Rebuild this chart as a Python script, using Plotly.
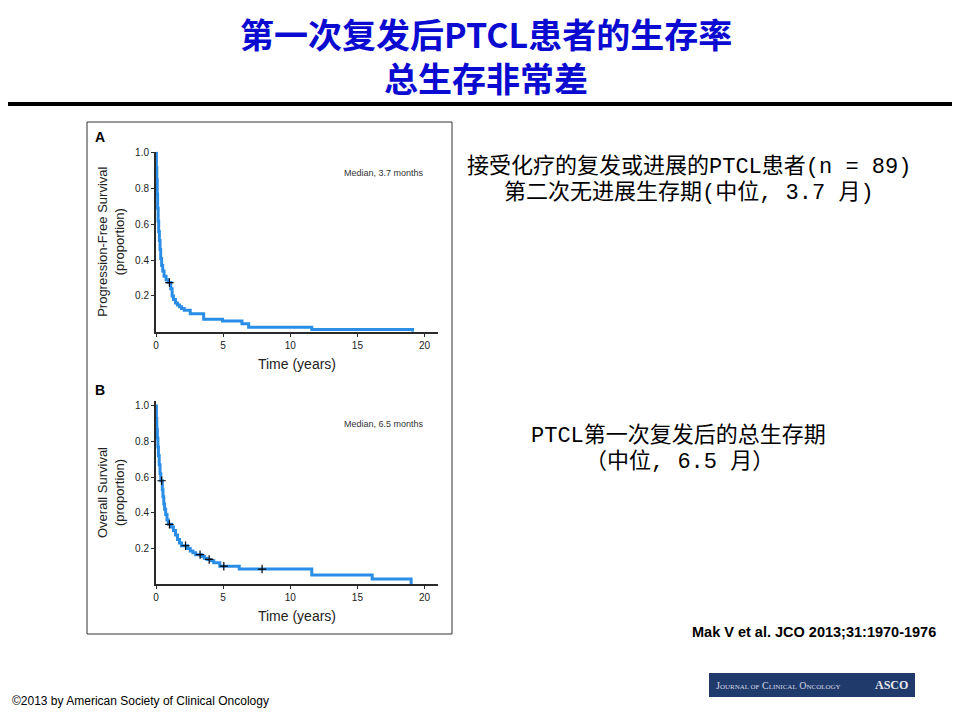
import plotly.graph_objects as go

# the page body has an 8px margin, so the figure is shifted by OFF and made smaller
OFF = 8
W, H = 960 - OFF, 720 - OFF

# Panel A: progression-free survival after first relapse (KM steps)
pfs_time = [0, 0.03, 0.06, 0.09, 0.12, 0.16, 0.2, 0.25, 0.3, 0.35, 0.42, 0.5, 0.6, 0.75, 0.9,
            1.1, 1.2, 1.3, 1.45, 1.6, 1.75, 1.9, 2.1, 2.55, 3.55, 4.95, 6.4, 6.9, 11.6, 19.1]
pfs_surv = [1.0, 0.92, 0.85, 0.77, 0.69, 0.62, 0.56, 0.51, 0.46, 0.41, 0.37, 0.34, 0.31, 0.29, 0.275,
            0.24, 0.2, 0.18, 0.16, 0.15, 0.14, 0.13, 0.12, 0.10, 0.07, 0.06, 0.045, 0.025, 0.013, 0.0]
pfs_cens_time = [1.0]
pfs_cens_surv = [0.275]

# Panel B: overall survival after first relapse
os_time = [0, 0.03, 0.06, 0.1, 0.14, 0.18, 0.24, 0.3, 0.36, 0.47, 0.52, 0.58, 0.64, 0.72, 0.82,
           0.92, 1.15, 1.3, 1.45, 1.6, 1.75, 1.9, 2.35, 2.55, 2.75, 2.95, 3.4, 3.6, 3.8, 4.1, 4.3,
           4.75, 6.2, 11.6, 16.1, 19.0]
os_surv = [1.0, 0.93, 0.87, 0.82, 0.77, 0.72, 0.67, 0.62, 0.58, 0.53, 0.49, 0.45, 0.42, 0.39, 0.36,
           0.335, 0.32, 0.30, 0.275, 0.25, 0.23, 0.215, 0.20, 0.185, 0.175, 0.165, 0.155, 0.145,
           0.138, 0.13, 0.12, 0.10, 0.084, 0.05, 0.028, 0.0]
os_cens_time = [0.42, 1.0, 2.2, 3.28, 3.96, 5.05, 7.9]
os_cens_surv = [0.58, 0.335, 0.215, 0.165, 0.138, 0.10, 0.084]

x_ticks = [0, 5, 10, 15, 20]
y_ticks = [0.2, 0.4, 0.6, 0.8, 1.0]

title_lines = ["第一次复发后PTCL患者的生存率", "总生存非常差"]
pfs_note = ["接受化疗的复发或进展的PTCL患者(n = 89)", "第二次无进展生存期(中位, 3.7 月)"]
os_note = ["PTCL第一次复发后的总生存期", "（中位, 6.5 月）"]

BLUE = "#2b8ee6"
AXIS = "#2a2a2a"
NARROW = "Liberation Sans Narrow, Liberation Sans, Arial"


def px(x):
    return (x - OFF) / W


def py(y):
    return 1 - (y - OFF) / H


fig = go.Figure()

cross = dict(symbol="cross-thin", size=6, line=dict(color="black", width=1.2))
fig.add_trace(go.Scatter(x=pfs_time, y=pfs_surv, mode="lines", line=dict(color=BLUE, width=3, shape="hv"),
                         xaxis="x", yaxis="y", showlegend=False))
fig.add_trace(go.Scatter(x=pfs_cens_time, y=pfs_cens_surv, mode="markers", marker=cross,
                         xaxis="x", yaxis="y", showlegend=False))
fig.add_trace(go.Scatter(x=os_time, y=os_surv, mode="lines", line=dict(color=BLUE, width=3, shape="hv"),
                         xaxis="x2", yaxis="y2", showlegend=False))
fig.add_trace(go.Scatter(x=os_cens_time, y=os_cens_surv, mode="markers", marker=cross,
                         xaxis="x2", yaxis="y2", showlegend=False))

xaxis_style = dict(range=[0, 21], tickvals=x_ticks, showline=True, linecolor=AXIS, linewidth=2,
                   ticks="outside", ticklen=3, tickcolor=AXIS, showgrid=False, zeroline=False,
                   tickfont=dict(family="Liberation Sans, Arial", size=10, color="#222"),
                   title=dict(text="Time (years)", font=dict(family=NARROW, size=14, color="#222"), standoff=9),
                   automargin=False)
yaxis_style = dict(tickvals=y_ticks, tickformat=".1f", showline=True, linecolor=AXIS, linewidth=2,
                   ticks="outside", ticklen=3, tickcolor=AXIS, showgrid=False, zeroline=False,
                   tickfont=dict(family="Liberation Sans, Arial", size=10, color="#222"),
                   automargin=False)

fig.update_layout(
    width=W, height=H,
    margin=dict(l=0, r=0, t=0, b=0),
    paper_bgcolor="white", plot_bgcolor="white",
    xaxis=dict(xaxis_style, domain=[px(156), px(438)], anchor="y"),
    yaxis=dict(yaxis_style, domain=[py(331.7), py(151.7)], range=[0, 1.007], anchor="x",
               title=dict(text="Progression-Free Survival<br>(proportion)",
                          font=dict(family=NARROW, size=13, color="#222"), standoff=8)),
    xaxis2=dict(xaxis_style, domain=[px(156), px(438)], anchor="y2"),
    yaxis2=dict(yaxis_style, domain=[py(584), py(401)], range=[0, 1.028], anchor="x2",
                title=dict(text="Overall Survival<br>(proportion)",
                           font=dict(family=NARROW, size=13, color="#222"), standoff=8)),
)

shapes = [
    dict(type="line", xref="paper", yref="paper", x0=0, x1=1, y0=py(104), y1=py(104),
         line=dict(color="black", width=4)),
    dict(type="rect", xref="paper", yref="paper", x0=px(87), x1=px(452), y0=py(634), y1=py(122),
         line=dict(color="#333", width=1)),
    dict(type="rect", xref="paper", yref="paper", x0=px(709), x1=px(915), y0=py(697), y1=py(673),
         line=dict(width=0), fillcolor="#1f3a6b"),
]
fig.update_layout(shapes=shapes)

ann = []
title_font = dict(family="Noto Sans CJK SC", size=34, color="#0a0ad0")
ann.append(dict(text="<b>%s</b><br><b>%s</b>" % (title_lines[0], title_lines[1]),
                x=px(486), y=py(55), font=title_font))

ann.append(dict(text="<b>A</b>", x=px(100), y=py(137), font=dict(family="Liberation Sans", size=14, color="black")))
ann.append(dict(text="<b>B</b>", x=px(100), y=py(390), font=dict(family="Liberation Sans", size=14, color="black")))

ann.append(dict(text="Median, 3.7 months", x=20.1, y=0.89, xref="x", yref="y", xanchor="right",
                font=dict(family="Liberation Sans", size=9, color="#333")))
ann.append(dict(text="Median, 6.5 months", x=20.1, y=0.90, xref="x2", yref="y2", xanchor="right",
                font=dict(family="Liberation Sans", size=9, color="#333")))

note_font = dict(family="Liberation Mono, Noto Sans CJK SC", size=22, color="black")
ann.append(dict(text=pfs_note[0], x=px(689), y=py(167), height=26, font=note_font))
ann.append(dict(text=pfs_note[1], x=px(689), y=py(193), height=26, font=note_font))
ann.append(dict(text=os_note[0], x=px(678), y=py(435), height=27, font=note_font))
ann.append(dict(text=os_note[1], x=px(679), y=py(462), height=27, font=note_font))

ann.append(dict(text="<b>Mak V et al. JCO 2013;31:1970-1976</b>", x=px(938), y=py(632), xanchor="right",
                font=dict(family="Liberation Sans, Arial", size=14.5, color="black")))
ann.append(dict(text="©2013 by American Society of Clinical Oncology", x=px(10), y=py(701), xanchor="left",
                font=dict(family="Liberation Sans, Arial", size=12, color="black")))

ann.append(dict(text="J<span style='font-size:7px'>OURNAL OF</span> C<span style='font-size:7px'>LINICAL</span> "
                     "O<span style='font-size:7px'>NCOLOGY</span>",
                x=px(714), y=py(685), xanchor="left",
                font=dict(family="Liberation Serif", size=10, color="#d8d8e8")))
ann.append(dict(text="<b>ASCO</b>", x=px(910), y=py(685), xanchor="right",
                font=dict(family="Liberation Serif", size=12, color="#e8e8f0")))

for a in ann:
    a.setdefault("xref", "paper")
    a.setdefault("yref", "paper")
    a.setdefault("xanchor", "center")
    a.setdefault("yanchor", "middle")
    a["showarrow"] = False
fig.update_layout(annotations=ann)

fig.write_html("out.html")
